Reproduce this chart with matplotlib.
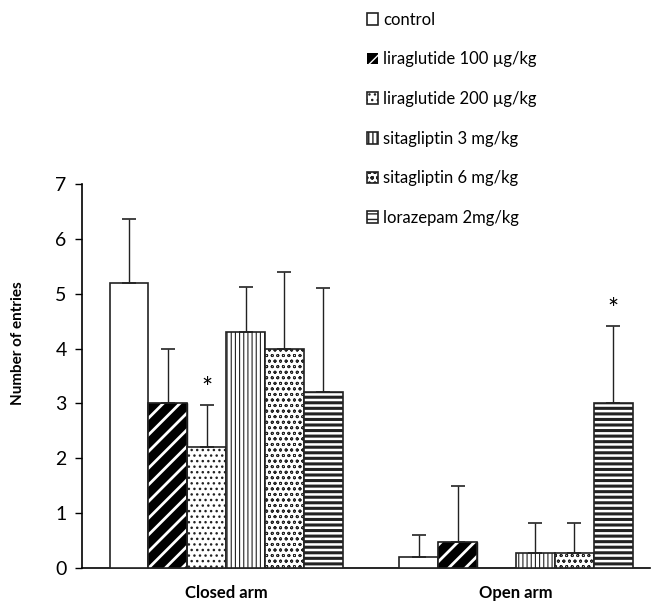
import matplotlib
matplotlib.use("Agg")
import matplotlib.pyplot as plt
import numpy as np

plt.rcParams['font.family'] = ['Lato', 'DejaVu Sans']

categories = ["Closed arm", "Open arm"]
series = ["control", "liraglutide 100 \u00b5g/kg", "liraglutide 200 \u00b5g/kg",
          "sitagliptin 3 mg/kg", "sitagliptin 6 mg/kg", "lorazepam 2mg/kg"]
values = [
    [5.2, 0.2],
    [3.0, 0.48],
    [2.2, 0.0],
    [4.3, 0.28],
    [4.0, 0.28],
    [3.2, 3.0],
]
errors = [
    [1.17, 0.4],
    [1.0, 1.02],
    [0.77, 0.0],
    [0.82, 0.54],
    [1.4, 0.54],
    [1.9, 1.42],
]
significant = [(2, 0), (5, 1)]

hatches = [None, '//', '...', '||||', 'ooo', '---']
faces = ['white', 'black', 'white', 'white', 'white', 'white']
hlw = [1.0, 2.0, 1.0, 0.8, 0.6, 2.2]

fig = plt.figure(figsize=(6.59, 6.02), dpi=100)
ax = fig.add_axes([82/659, 1-568/602, (650-82)/659, (568-184)/602])

x = np.arange(len(categories))
w = 0.134
n = len(series)
handles = []
for i in range(n):
    pos = x + (i - (n-1)/2) * w
    vals = np.array(values[i])
    errs = np.array(errors[i])
    mask = vals > 0
    if faces[i] == 'black':
        ax.bar(pos[mask], vals[mask], w, color='black', edgecolor='black', linewidth=1.0, zorder=2)
        b = ax.bar(pos[mask], vals[mask], w, color='none', edgecolor='white', hatch=hatches[i], linewidth=0, zorder=3)
        for p in b:
            try:
                p.set_hatch_linewidth(hlw[i])
            except Exception:
                pass
        ax.bar(pos[mask], vals[mask], w, color='none', edgecolor='#222222', linewidth=1.2, zorder=4)
        h = ax.bar([0], [0], 0, color='black', edgecolor='white', hatch=hatches[i], linewidth=0)
        handles.append(h)
    else:
        b = ax.bar(pos[mask], vals[mask], w, color=faces[i], edgecolor='#222222',
                   hatch=hatches[i], linewidth=1.2, zorder=3)
        for p in b:
            try:
                p.set_hatch_linewidth(hlw[i])
            except Exception:
                pass
        handles.append(b)
    ax.errorbar(pos[mask], vals[mask], yerr=[np.zeros(mask.sum()), errs[mask]], fmt='none',
                ecolor='#222222', elinewidth=1.0, capsize=5, capthick=1.2, zorder=5)

for (i, c) in significant:
    pos = x[c] + (i - (n-1)/2) * w
    ax.text(pos, values[i][c] + errors[i][c] + 0.05, '*', ha='center', va='bottom', fontsize=19)

ax.set_xlim(-0.497, 1.462)
ax.set_ylim(0, 7)
ax.set_yticks(range(8))
ax.tick_params(axis='y', labelsize=14, length=5, width=1, direction='out', pad=6)
ax.set_xticks(x)
ax.set_xticklabels(categories, fontsize=12, fontweight='bold')
ax.tick_params(axis='x', length=0, pad=12)
for s in ['top', 'right']:
    ax.spines[s].set_visible(False)
ax.spines['left'].set_linewidth(1.2)
ax.spines['bottom'].set_linewidth(1.2)
ax.set_ylabel('Number of entries', fontsize=11, fontweight='bold')
ax.yaxis.set_label_coords(-0.1, 0.585)

leg = fig.legend(handles, series, loc='upper left', bbox_to_anchor=(360/659, 1 - 5/602),
                 frameon=False, fontsize=12, handlelength=0.7, handleheight=0.7,
                 handletextpad=0.3, labelspacing=1.42, borderaxespad=0)

fig.savefig('out.png', dpi=100)
